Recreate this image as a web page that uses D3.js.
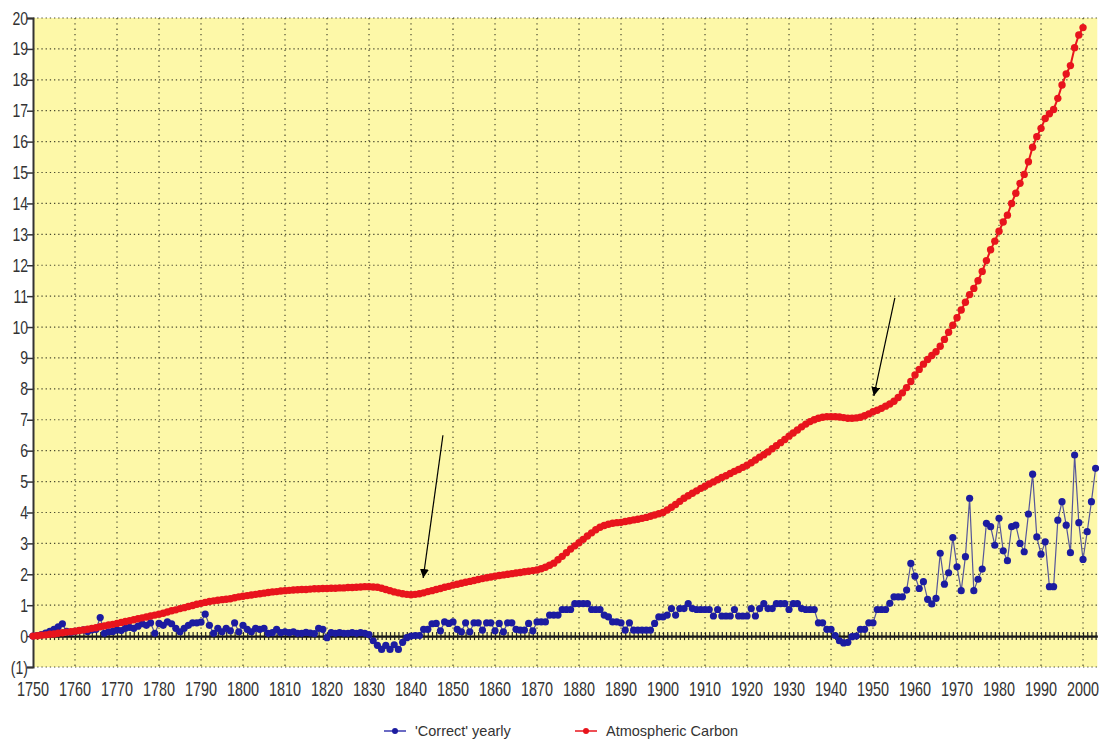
<!DOCTYPE html>
<html>
<head>
<meta charset="utf-8">
<script src="https://cdn.jsdelivr.net/npm/d3@7"></script>
<style>
  body { margin: 0; background: #fff; }
  svg text { font-family: "Liberation Sans", Arial, sans-serif; }
</style>
</head>
<body>
<div id="chart"></div>
<script>
const width = 1099;
const height = 742;

const firstYear = 1750;

// Atmospheric Carbon, yearly from 1750
const carbon = [
  0.00,0.01,0.03,0.04,0.06,0.07,0.09,0.11,0.13,0.14,
  0.16,0.18,0.20,0.22,0.25,0.27,0.30,0.33,0.36,0.38,
  0.41,0.44,0.47,0.50,0.53,0.56,0.59,0.62,0.65,0.68,
  0.71,0.74,0.78,0.82,0.85,0.89,0.92,0.96,0.99,1.03,
  1.06,1.09,1.12,1.14,1.16,1.18,1.19,1.21,1.24,1.27,
  1.29,1.31,1.33,1.35,1.37,1.39,1.41,1.43,1.44,1.46,
  1.47,1.48,1.49,1.50,1.51,1.51,1.52,1.53,1.53,1.54,
  1.54,1.55,1.55,1.56,1.56,1.57,1.57,1.58,1.59,1.60,
  1.60,1.59,1.58,1.55,1.51,1.47,1.43,1.40,1.37,1.35,
  1.34,1.35,1.37,1.40,1.44,1.47,1.51,1.54,1.58,1.61,
  1.65,1.68,1.71,1.74,1.77,1.80,1.83,1.86,1.89,1.91,
  1.94,1.96,1.98,2.00,2.02,2.04,2.06,2.08,2.10,2.12,
  2.14,2.18,2.23,2.29,2.36,2.47,2.58,2.70,2.82,2.92,
  3.02,3.13,3.24,3.34,3.44,3.52,3.58,3.62,3.65,3.67,
  3.68,3.71,3.73,3.76,3.78,3.81,3.84,3.88,3.92,3.96,
  4.00,4.08,4.17,4.26,4.36,4.46,4.54,4.62,4.70,4.78,
  4.85,4.92,4.99,5.06,5.13,5.19,5.26,5.33,5.39,5.46,
  5.53,5.61,5.70,5.79,5.87,5.96,6.06,6.16,6.26,6.36,
  6.47,6.57,6.67,6.77,6.86,6.94,7.00,7.05,7.08,7.10,
  7.10,7.10,7.09,7.07,7.05,7.05,7.06,7.08,7.13,7.19,
  7.26,7.31,7.37,7.44,7.51,7.60,7.72,7.87,8.04,8.24,
  8.45,8.63,8.80,8.95,9.08,9.20,9.38,9.60,9.83,10.06,
  10.30,10.55,10.80,11.05,11.25,11.50,11.80,12.15,12.50,12.78,
  13.10,13.40,13.62,14.00,14.33,14.65,14.94,15.35,15.82,16.16,
  16.43,16.75,16.90,17.04,17.40,17.83,18.19,18.46,19.04,19.45,
  19.69
];

// 'Correct' yearly, from 1750
const correctYearly = [
  0.00,0.02,0.05,0.10,0.15,0.22,0.30,0.40,0.15,0.12,
  0.15,0.18,0.20,0.15,0.20,0.22,0.60,0.09,0.14,0.15,
  0.20,0.18,0.25,0.28,0.25,0.32,0.40,0.35,0.43,0.09,
  0.41,0.35,0.46,0.40,0.25,0.14,0.25,0.35,0.43,0.43,
  0.45,0.71,0.35,0.09,0.25,0.14,0.25,0.17,0.43,0.14,
  0.35,0.22,0.14,0.25,0.22,0.25,0.09,0.11,0.22,0.11,
  0.14,0.11,0.14,0.09,0.09,0.12,0.10,0.08,0.25,0.22,
  -0.05,0.11,0.09,0.11,0.09,0.09,0.11,0.09,0.11,0.09,
  0.05,-0.15,-0.30,-0.43,-0.30,-0.43,-0.28,-0.43,-0.20,-0.05,
  0.00,0.02,0.02,0.22,0.22,0.40,0.41,0.17,0.46,0.41,
  0.46,0.22,0.14,0.43,0.14,0.43,0.43,0.19,0.43,0.43,
  0.17,0.41,0.14,0.43,0.43,0.22,0.19,0.19,0.41,0.17,
  0.46,0.46,0.46,0.68,0.68,0.68,0.86,0.86,0.86,1.05,
  1.05,1.05,1.05,0.86,0.86,0.86,0.68,0.62,0.46,0.46,
  0.43,0.19,0.43,0.19,0.19,0.19,0.19,0.19,0.41,0.62,
  0.62,0.68,0.89,0.68,0.89,0.89,1.05,0.89,0.86,0.86,
  0.86,0.86,0.65,0.86,0.65,0.65,0.65,0.86,0.65,0.65,
  0.65,0.89,0.65,0.89,1.05,0.89,0.89,1.05,1.05,1.05,
  0.86,1.05,1.05,0.89,0.86,0.86,0.86,0.43,0.43,0.22,
  0.22,0.02,-0.15,-0.22,-0.20,-0.02,0.00,0.22,0.22,0.43,
  0.43,0.86,0.86,0.86,1.06,1.27,1.27,1.27,1.49,2.35,
  1.94,1.54,1.76,1.19,1.04,1.22,2.68,1.68,2.05,3.19,
  2.24,1.47,2.57,4.46,1.47,1.84,2.17,3.65,3.54,2.94,
  3.81,2.76,2.44,3.54,3.59,3.00,2.73,3.95,5.24,3.21,
  2.65,3.05,1.60,1.60,3.75,4.35,3.59,2.70,5.86,3.67,
  2.48,3.38,4.35,5.43
];

const xTickYears = [1750,1760,1770,1780,1790,1800,1810,1820,1830,1840,1850,1860,1870,
  1880,1890,1900,1910,1920,1930,1940,1950,1960,1970,1980,1990,2000];
const yTicks = [-1,0,1,2,3,4,5,6,7,8,9,10,11,12,13,14,15,16,17,18,19,20];

// arrows drawn on the chart: [fromYear, fromValue, toYear, toValue]
const arrows = [
  [1847.6, 6.50, 1842.9, 1.88],
  [1955.2, 10.94, 1950.2, 7.77]
];

const legendItems = [
  { name: "'Correct' yearly", color: '#1c1ca0', line: '#3a3ab0' },
  { name: 'Atmospheric Carbon', color: '#e8141c', line: '#e8141c' }
];

const svg = d3.select('#chart')
  .append('svg')
  .attr('width', width)
  .attr('height', height);

const x = d3.scaleLinear().domain([1750, 2003.4]).range([33, 1097.3]);
const y = d3.scaleLinear().domain([-1, 20]).range([667, 18]);

// plot area
svg.append('rect')
  .attr('x', x(1750))
  .attr('y', y(20))
  .attr('width', x(2003.4) - x(1750))
  .attr('height', y(-1) - y(20))
  .attr('fill', '#fdf8a8');

// gridlines
svg.append('g')
  .selectAll('line')
  .data(yTicks)
  .enter()
  .append('line')
  .attr('x1', x(1750))
  .attr('x2', x(2003.4))
  .attr('y1', (d) => y(d))
  .attr('y2', (d) => y(d))
  .attr('stroke', '#4a4a30')
  .attr('stroke-width', 1.2)
  .attr('stroke-dasharray', '1.3,2.9');

svg.append('g')
  .selectAll('line')
  .data(xTickYears.slice(1))
  .enter()
  .append('line')
  .attr('x1', (d) => x(d))
  .attr('x2', (d) => x(d))
  .attr('y1', y(20))
  .attr('y2', y(-1))
  .attr('stroke', '#4a4a30')
  .attr('stroke-width', 1.2)
  .attr('stroke-dasharray', '1.3,4');

// y axis
const yAxis = svg.append('g')
  .attr('transform', 'translate(' + x(1750) + ',0)')
  .call(d3.axisLeft(y)
    .tickValues(yTicks)
    .tickSize(6)
    .tickFormat(''));

yAxis.select('.domain').attr('stroke', '#333').attr('stroke-width', 2);
yAxis.selectAll('.tick line').attr('stroke', '#333').attr('stroke-width', 1.5);

// y labels, narrow like the original
svg.append('g')
  .selectAll('text')
  .data(yTicks)
  .enter()
  .append('text')
  .attr('transform', (d) => 'translate(28,' + (y(d) + 6.5) + ') scale(0.78,1)')
  .attr('text-anchor', 'end')
  .attr('fill', '#333')
  .style('font-size', '18px')
  .text((d) => d < 0 ? '(' + Math.abs(d) + ')' : d);

// x labels at the bottom
svg.append('g')
  .selectAll('text')
  .data(xTickYears)
  .enter()
  .append('text')
  .attr('transform', (d) => 'translate(' + x(d) + ',696) scale(0.72,1)')
  .attr('text-anchor', 'middle')
  .attr('fill', '#333')
  .style('font-size', '20px')
  .text((d) => d);

// zero line with yearly ticks
const zeroAxis = svg.append('g')
  .attr('transform', 'translate(0,' + y(0) + ')')
  .call(d3.axisBottom(x)
    .tickValues(d3.range(1751, 2004))
    .tickSizeInner(4)
    .tickSizeOuter(0)
    .tickFormat(''));

zeroAxis.select('.domain').attr('stroke', '#111').attr('stroke-width', 2.2);
zeroAxis.selectAll('.tick line')
  .attr('y1', -4)
  .attr('y2', 4)
  .attr('stroke', '#222')
  .attr('stroke-width', 1.2);

// series
function drawSeries(values, lineColor, lineWidth, dotColor, r) {
  const pts = values.map((v, i) => [firstYear + i, v]);
  const line = d3.line()
    .x((d) => x(d[0]))
    .y((d) => y(d[1]));

  svg.append('path')
    .datum(pts)
    .attr('d', line)
    .attr('fill', 'none')
    .attr('stroke', lineColor)
    .attr('stroke-width', lineWidth);

  svg.append('g')
    .selectAll('circle')
    .data(pts)
    .enter()
    .append('circle')
    .attr('cx', (d) => x(d[0]))
    .attr('cy', (d) => y(d[1]))
    .attr('r', r)
    .attr('fill', dotColor);
}

drawSeries(correctYearly, '#55559a', 1.2, '#1c1ca0', 3.6);
drawSeries(carbon, '#e8141c', 2, '#e8141c', 3.7);

// arrows
svg.append('defs')
  .append('marker')
  .attr('id', 'head')
  .attr('viewBox', '0 0 10 10')
  .attr('refX', 10)
  .attr('refY', 5)
  .attr('markerWidth', 9)
  .attr('markerHeight', 9)
  .attr('markerUnits', 'userSpaceOnUse')
  .attr('orient', 'auto')
  .append('path')
  .attr('d', 'M0,0 L10,5 L0,10 Z')
  .attr('fill', '#000');

svg.append('g')
  .selectAll('line')
  .data(arrows)
  .enter()
  .append('line')
  .attr('x1', (d) => x(d[0]))
  .attr('y1', (d) => y(d[1]))
  .attr('x2', (d) => x(d[2]))
  .attr('y2', (d) => y(d[3]))
  .attr('stroke', '#000')
  .attr('stroke-width', 1.2)
  .attr('marker-end', 'url(#head)');

// legend
const legend = svg.append('g')
  .selectAll('g')
  .data(legendItems)
  .enter()
  .append('g')
  .attr('transform', (d, i) => 'translate(' + (384 + i * 191) + ',731)');

legend.append('line')
  .attr('x1', 0)
  .attr('x2', 22)
  .attr('stroke', (d) => d.line)
  .attr('stroke-width', 1.5);

legend.append('circle')
  .attr('cx', 11)
  .attr('r', 3)
  .attr('fill', (d) => d.color);

legend.append('text')
  .attr('x', 31)
  .attr('y', 5)
  .attr('fill', '#333')
  .style('font-size', '14.5px')
  .text((d) => d.name);
</script>
</body>
</html>
